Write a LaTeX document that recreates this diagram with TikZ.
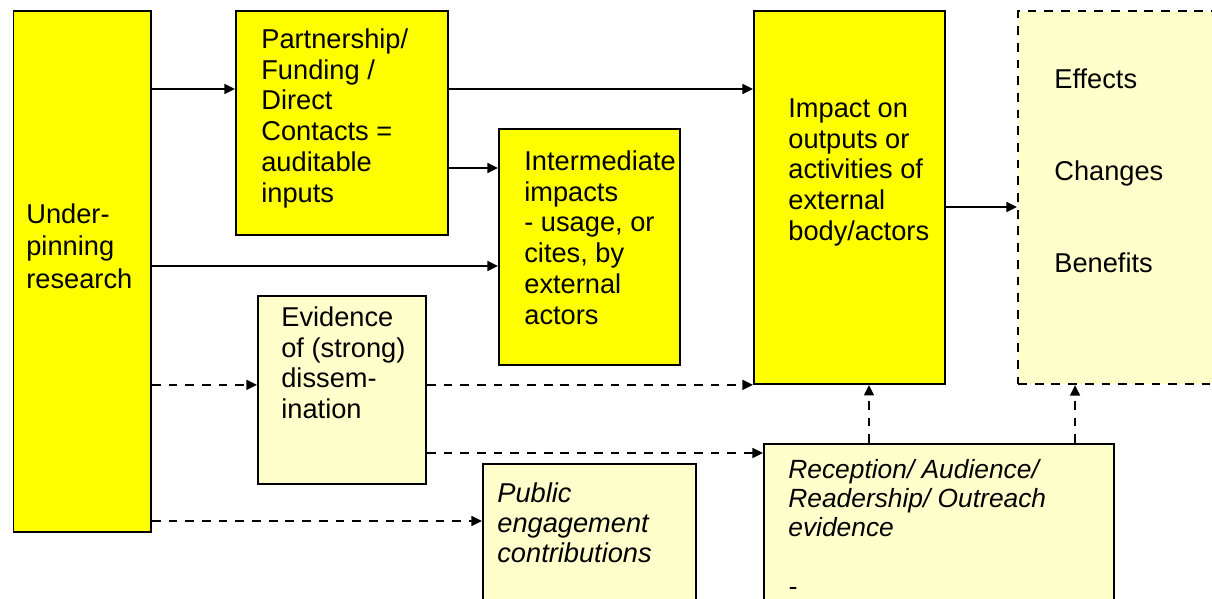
\documentclass[tikz,border=0pt]{standalone}
\usepackage{fontspec}
\setmainfont{Liberation Sans}
\usetikzlibrary{arrows.meta}

\definecolor{boxyellow}{HTML}{FFFF00}
\definecolor{paleyellow}{HTML}{FFFFCC}

\tikzset{
  ybox/.style={draw, line width=1.1pt, fill=boxyellow, anchor=north west, inner sep=0pt},
  pbox/.style={ybox, fill=paleyellow},
  txt/.style={anchor=north west, inner sep=0pt, align=left, font=\fontsize{15.5}{17.6}\selectfont},
  conn/.style={line width=1.2pt, -{Triangle[length=6pt,width=5.5pt]}},
  dconn/.style={conn, line width=1.3pt, dash pattern=on 5pt off 4.5pt}
}

\begin{document}
\begin{tikzpicture}[x=0.02cm, y=-0.02cm]

\useasboundingbox (0,0) rectangle (1212,598);
\clip (0,0) rectangle (1212,598);

% Boxes
\node[ybox, minimum width=2.75cm, minimum height=10.42cm] (under) at (12.5,10) {};
\node[ybox, minimum width=4.24cm, minimum height=4.48cm] (part) at (235,10) {};
\node[ybox, minimum width=3.62cm, minimum height=4.72cm] (inter) at (498,128) {};
\node[ybox, minimum width=3.82cm, minimum height=7.46cm] (impact) at (753,10) {};
\node[pbox, line width=1.2pt, dash pattern=on 5pt off 4.5pt, minimum width=4.8cm, minimum height=7.46cm] (effects) at (1017,10) {};
\node[pbox, minimum width=3.36cm, minimum height=3.76cm] (evid) at (257,295) {};
\node[pbox, minimum width=4.26cm, minimum height=4cm] (public) at (482,463) {};
\node[pbox, minimum width=7cm, minimum height=4cm] (recep) at (763,443) {};

% Texts
\node[txt, font=\fontsize{15.5}{18.6}\selectfont] (under-t) at (26,203) {Under-\\pinning\\research};
\node[txt] (part-t) at (261,28) {Partnership/\\Funding /\\Direct\\Contacts =\\auditable\\inputs};
\node[txt] (inter-t) at (524,150) {Intermediate\\impacts\\- usage, or\\cites, by\\external\\actors};
\node[txt] (impact-t) at (788,98) {Impact on\\outputs or\\activities of\\external\\body/actors};
\node[txt] (effects-t) at (1054,68) {Effects\\[34.8pt]Changes\\[34.8pt]Benefits};
\node[txt] (evid-t) at (281,306) {Evidence\\of (strong)\\dissem-\\ination};
\node[txt, font=\fontsize{15.5}{17.3}\selectfont\itshape] (public-t) at (497,482) {Public\\engagement\\contributions};
\node[txt, font=\fontsize{15}{16.6}\selectfont\itshape] (recep-t) at (788,459) {Reception/ Audience/\\Readership/ Outreach\\evidence\\[16.6pt]-};

% Rows and columns of the connectors
\coordinate (rowa) at (0,89);
\coordinate (rowb) at (0,168);
\coordinate (rowc) at (0,266);
\coordinate (rowe) at (0,453);
\coordinate (rowf) at (0,521);
\coordinate (rowg) at (0,207);
\coordinate (cola) at (869,0);
\coordinate (colb) at (1075,0);

% Solid links
\draw[conn] (under.east |- rowa) -- (part.west |- rowa);
\draw[conn] (part.east |- rowa) -- (impact.west |- rowa);
\draw[conn] (part.east |- rowb) -- (inter.west |- rowb);
\draw[conn] (under.east |- rowc) -- (inter.west |- rowc);
\draw[conn] (impact.east |- rowg) -- (effects.west |- rowg);

% Dashed links
\draw[dconn] (under.east |- impact.south) -- (evid.west |- impact.south);
\draw[dconn] (evid.east |- impact.south) -- (impact.south west);
\draw[dconn] (evid.east |- rowe) -- (recep.west |- rowe);
\draw[dconn] (under.east |- rowf) -- (public.west |- rowf);
\draw[dconn] (recep.north -| cola) -- (impact.south -| cola);
\draw[dconn] (recep.north -| colb) -- (effects.south -| colb);

\end{tikzpicture}
\end{document}
